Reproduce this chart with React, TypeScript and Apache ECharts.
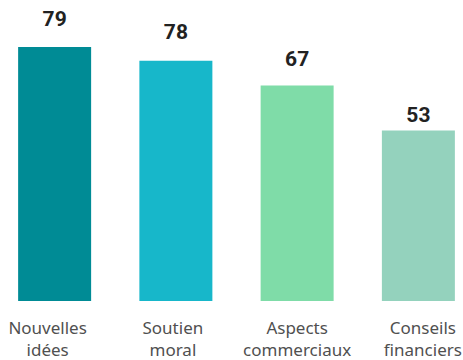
import React, { useEffect, useRef } from "react";
import * as echarts from "echarts";

const categories = ["Nouvelles\nidées", "Soutien\nmoral", "Aspects\ncommerciaux", "Conseils\nfinanciers"];
// bar heights as drawn in the picture
const barValues = [79, 74.7, 67, 53];
// values printed above the bars
const valueLabels = ["79", "78", "67", "53"];
const barColors = ["#008B95", "#17B7CA", "#7FDCA8", "#94D2BD"];
const labelGaps = [18, 18, 16, 5];
const catPads = [[0, 14, 0, 0], [0, 6, 0, 0], [0, 0, 0, 0], [0, 0, 0, 9]];

export default function App() {
  const ref = useRef<HTMLDivElement>(null);
  useEffect(() => {
    if (!ref.current) return;
    const chart = echarts.init(ref.current, null, { renderer: "svg" });
    chart.setOption({
      animation: false,
      grid: { left: 0, right: 0, top: 47, bottom: 58.5 },
      xAxis: {
        type: "category",
        data: categories.map((c, i) => ({ value: c, textStyle: { padding: catPads[i] } })),
        axisLine: { show: false },
        axisTick: { show: false },
        axisLabel: {
          color: "#505050",
          fontFamily: "Noto Sans",
          fontSize: 17,
          lineHeight: 22,
          margin: 15,
          interval: 0,
        },
      },
      yAxis: {
        type: "value",
        min: 0,
        max: 79,
        show: false,
        splitLine: { show: false },
      },
      series: [
        {
          type: "bar",
          barWidth: 73,
          data: barValues.map((v, i) => ({
            value: v,
            itemStyle: { color: barColors[i] },
            label: { distance: labelGaps[i] },
          })),
          label: {
            show: true,
            position: "top",
            formatter: (p: any) => valueLabels[p.dataIndex],
            color: "#222",
            fontFamily: "Roboto",
            fontWeight: "bold",
            fontSize: 21,
          },
        },
      ],
    });
    return () => chart.dispose();
  }, []);
  return (
    <div style={{ position: "absolute", left: 0, top: 0, width: 463, height: 360, overflow: "hidden" }}>
      <div
        ref={ref}
        style={{ position: "absolute", left: -6.2, top: 0, width: 485.3, height: 360 }}
      />
    </div>
  );
}
